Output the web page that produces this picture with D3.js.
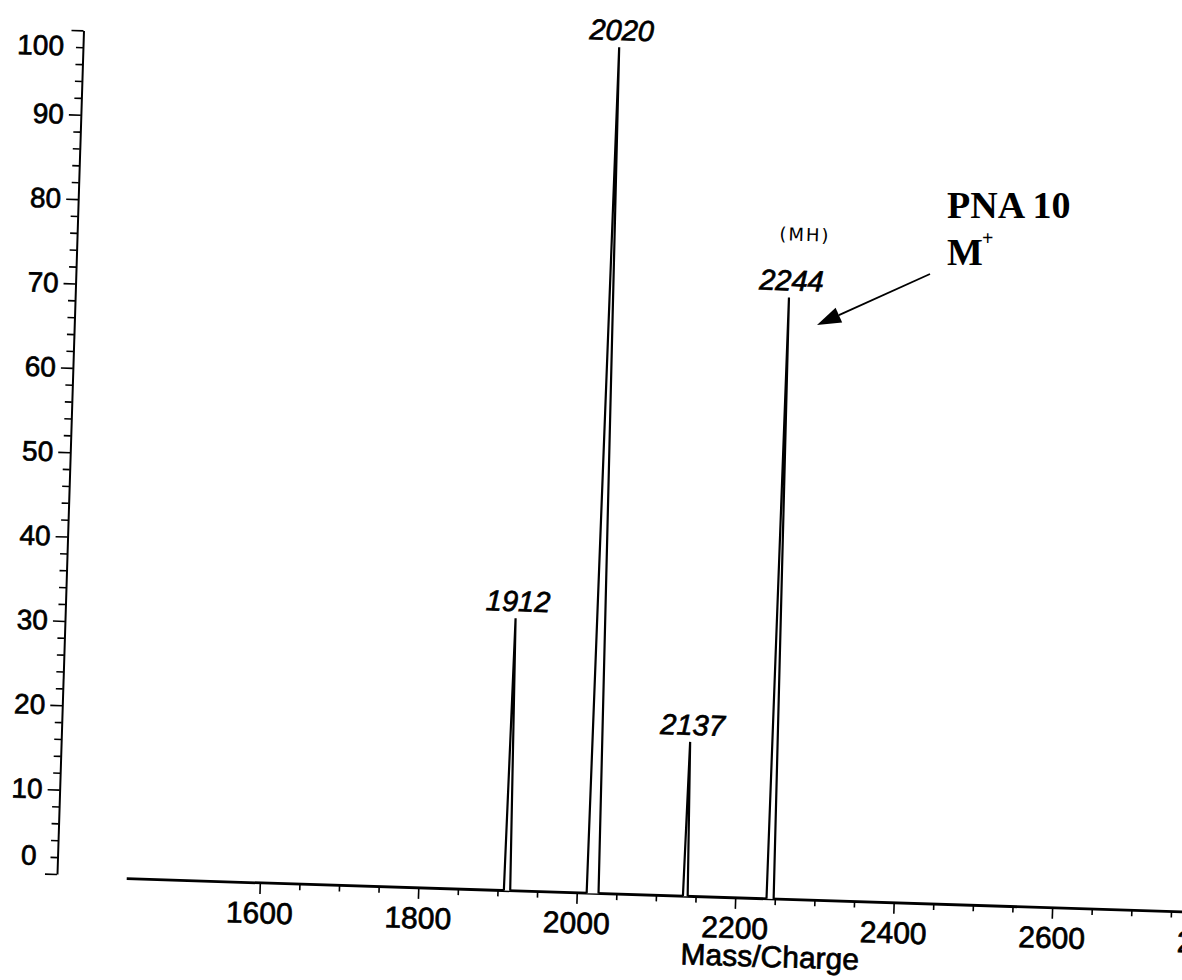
<!DOCTYPE html>
<html>
<head>
<meta charset="utf-8">
<script src="https://cdn.jsdelivr.net/npm/d3@7"></script>
<style>
  html, body { margin: 0; padding: 0; background: #fff; }
  svg { display: block; }
</style>
</head>
<body>
<script>
// Mass spectrum of PNA 10: detected peaks (m/z), relative intensity (%), peak base width (m/z)
const peakMz = [1912, 2020, 2137, 2244];
const peakIntensity = [32, 100, 18, 71];
const peakWidth = [8, 15, 6, 9];
const peakLabels = ["1912", "2020", "2137", "2244"];

// Axis ticks
const xTickLabels = [1600, 1800, 2000, 2200, 2400, 2600, 2800];
const xMinorStep = 50;
const yTickLabels = [0, 10, 20, 30, 40, 50, 60, 70, 80, 90, 100];
const yMinorStep = 2;

// Recorded trace extent and its baseline level
const traceRange = [1432, 2950];
const baselineLevel = -0.3;

const SANS = '"Liberation Sans", Arial, sans-serif';
const SERIF = '"Liberation Serif", "Times New Roman", serif';

const W = 1182, H = 980;
const svg = d3.select("body").append("svg")
  .attr("width", W).attr("height", H)
  .attr("viewBox", `0 0 ${W} ${H}`);

const x = d3.scaleLinear().domain([1600, 2600]).range([260, 1052.7]);
const y = d3.scaleLinear().domain([0, 100]).range([874, 30]);
const axisX = 57;

// the printed plot sits slightly turned on the page
const tilt = 1.8;
const plot = svg.append("g")
  .attr("transform", `rotate(${tilt},${axisX},${y(0)})`);

// printed text is a little heavy
function inked(sel, w) {
  sel.style("fill", "#000").style("stroke", "#000").style("stroke-width", w);
}

// ---- y axis ----
const yAxis = d3.axisLeft(y)
  .tickValues(d3.range(0, 100 + 1e-9, yMinorStep))
  .tickSizeInner(12)
  .tickSizeOuter(0)
  .tickPadding(5)
  .tickFormat(d => (yTickLabels.includes(d) ? d : ""));

const yG = plot.append("g")
  .attr("transform", `translate(${axisX},0)`)
  .call(yAxis);
yG.select(".domain").attr("stroke", "#000").attr("stroke-width", 2);
yG.selectAll(".tick line")
  .attr("stroke", "#000")
  .attr("stroke-width", 1.6)
  .attr("x2", d => (yTickLabels.includes(d) ? -12 : -7));
yG.selectAll(".tick text")
  .style("font-size", "28px")
  .style("font-family", SANS)
  .call(inked, 0.7);
// end labels are set inward from their ticks
yG.selectAll(".tick text")
  .filter(d => d === 100)
  .attr("dy", "0.9em").attr("x", -19);
yG.selectAll(".tick text")
  .filter(d => d === 0)
  .attr("dy", "-0.32em").attr("x", -21);

// ---- x axis ----
const baseY = y(baselineLevel);
const xAxis = d3.axisBottom(x)
  .tickValues(d3.range(1600, 2950 + 1e-9, xMinorStep))
  .tickSizeInner(11)
  .tickSizeOuter(0)
  .tickPadding(8)
  .tickFormat(d => (xTickLabels.includes(d) ? d : ""));

const xG = plot.append("g")
  .attr("transform", `translate(0,${baseY})`)
  .call(xAxis);
xG.select(".domain").remove();
xG.selectAll(".tick line")
  .attr("stroke", "#000")
  .attr("stroke-width", 1.6)
  .attr("y2", d => (xTickLabels.includes(d) ? 11 : 6));
xG.selectAll(".tick text")
  .style("font-size", "30px")
  .style("font-family", SANS)
  .call(inked, 0.7);

plot.append("text")
  .attr("x", x(2246))
  .attr("y", baseY + 68)
  .attr("text-anchor", "middle")
  .style("font-size", "30px")
  .style("font-family", SANS)
  .call(inked, 0.7)
  .text("Mass/Charge");

// ---- baseline trace ----
const line = d3.line().x(d => x(d[0])).y(d => y(d[1]));
plot.append("path")
  .datum([[traceRange[0], baselineLevel], [traceRange[1], baselineLevel]])
  .attr("d", line)
  .attr("fill", "none")
  .attr("stroke", "#000")
  .attr("stroke-width", 2.8);

// ---- peaks ----
const peaks = peakMz.map((m, i) => ({
  mz: m, h: peakIntensity[i], w: peakWidth[i], label: peakLabels[i]
}));

plot.selectAll("path.peak")
  .data(peaks)
  .join("path")
  .attr("class", "peak")
  .attr("d", p => line([
    [p.mz - p.w / 2, baselineLevel],
    [p.mz, p.h],
    [p.mz + p.w / 2, baselineLevel]
  ]))
  .attr("fill", "#fff")
  .attr("stroke", "#000")
  .attr("stroke-width", 2.2)
  .attr("stroke-linejoin", "miter");

plot.selectAll("text.peak-label")
  .data(peaks)
  .join("text")
  .attr("class", "peak-label")
  .attr("x", p => x(p.mz) + 2)
  .attr("y", p => y(p.h) - 7)
  .attr("text-anchor", "middle")
  .style("font-size", "29px")
  .style("font-style", "italic")
  .style("font-family", SANS)
  .call(inked, 0.7)
  .text(p => p.label);

// hand note above the molecular ion
const ion = peaks[3];
plot.append("text")
  .attr("x", x(ion.mz) + 14)
  .attr("y", y(ion.h) - 57)
  .attr("text-anchor", "middle")
  .style("font-size", "18px")
  .style("letter-spacing", "2px")
  .style("font-family", '"DejaVu Sans", sans-serif')
  .style("fill", "#000")
  .text("(MH)");

// ---- annotation ----
const note = svg.append("g");
note.append("text")
  .attr("x", 947).attr("y", 218)
  .style("font-family", SERIF)
  .style("font-weight", "bold")
  .style("font-size", "38px")
  .style("fill", "#000")
  .text("PNA 10");
note.append("text")
  .attr("x", 947).attr("y", 265)
  .style("font-family", SERIF)
  .style("font-weight", "bold")
  .style("font-size", "38px")
  .style("fill", "#000")
  .text("M");
note.append("text")
  .attr("x", 982).attr("y", 245)
  .style("font-family", SERIF)
  .style("font-weight", "bold")
  .style("font-size", "20px")
  .style("fill", "#000")
  .text("+");

const a0 = [930, 274], a1 = [817, 325];
const ang = Math.atan2(a1[1] - a0[1], a1[0] - a0[0]);
const headLen = 24, headHalf = 8;
const bx = a1[0] - headLen * Math.cos(ang), by = a1[1] - headLen * Math.sin(ang);
note.append("line")
  .attr("x1", a0[0]).attr("y1", a0[1])
  .attr("x2", bx).attr("y2", by)
  .attr("stroke", "#000").attr("stroke-width", 1.8);
note.append("path")
  .attr("d", d3.line()([
    a1,
    [bx + headHalf * Math.sin(ang), by - headHalf * Math.cos(ang)],
    [bx - headHalf * Math.sin(ang), by + headHalf * Math.cos(ang)]
  ]) + "Z")
  .attr("fill", "#000");
</script>
</body>
</html>
